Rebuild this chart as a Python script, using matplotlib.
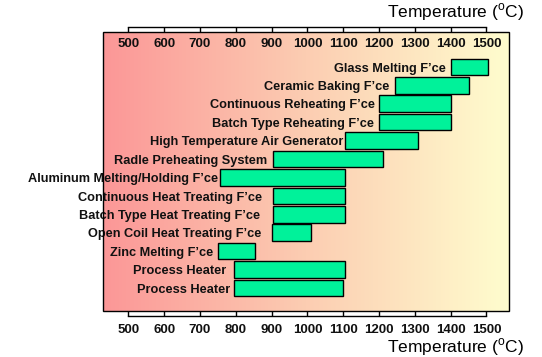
import matplotlib.pyplot as plt
import numpy as np
from matplotlib.colors import LinearSegmentedColormap
from matplotlib.patches import Rectangle

# Datos del grafico
furnaces = [
    "Glass Melting F’ce",
    "Ceramic Baking F’ce",
    "Continuous Reheating F’ce",
    "Batch Type Reheating F’ce",
    "High Temperature Air Generator",
    "Radle Preheating System",
    "Aluminum Melting/Holding F’ce",
    "Continuous Heat Treating F’ce",
    "Batch Type Heat Treating F’ce",
    "Open Coil Heat Treating F’ce",
    "Zinc Melting F’ce",
    "Process Heater",
    "Process Heater",
]
temp_low = [1400, 1245, 1200, 1200, 1105, 905, 755, 905, 905, 900, 750, 795, 795]
temp_high = [1505, 1450, 1400, 1400, 1310, 1210, 1105, 1105, 1105, 1010, 855, 1105, 1100]
ticks = [500, 600, 700, 800, 900, 1000, 1100, 1200, 1300, 1400, 1500]

# espacio (px) entre el texto y la barra, como en el original
label_gap = [5, 6, 4, 5, 2, 6, 2, 11, 13, 10, 5, 8, 4]

plt.rcParams['font.family'] = 'Liberation Sans'

fig = plt.figure(figsize=(5.42, 3.57), dpi=100)
ax = fig.add_axes([0.1906, 0.1289, 0.7485, 0.7807])

x0, x1 = 430, 1563
y_top, y_bot = -1.88, 13.25

# Fondo degradado rojo -> amarillo
cmap = LinearSegmentedColormap.from_list('bg', ['#FB9797', '#FCCDB2', '#FFFDCE'])
grad = np.linspace(0, 1, 256).reshape(1, -1)
ax.imshow(grad, cmap=cmap, aspect='auto', extent=[x0, x1, y_bot, y_top], zorder=0)

# Barras
pos = np.arange(len(furnaces))
widths = [h - l for l, h in zip(temp_low, temp_high)]
ax.barh(pos, widths, left=temp_low, height=0.9, color='#00F29A',
        edgecolor='black', linewidth=1, zorder=2)

for i, name in enumerate(furnaces):
    ax.annotate(name, xy=(temp_low[i], i), xytext=(-label_gap[i] * 0.72, -3.4),
                textcoords='offset points', ha='right', va='baseline',
                fontsize=9.2, fontweight='bold', color='#111111', zorder=3)

ax.set_xlim(x0, x1)
ax.set_ylim(y_bot, y_top)
ax.set_yticks([])

# Ejes arriba y abajo como "regla"
for side in ['left', 'right']:
    ax.spines[side].set_visible(False)
for side in ['top', 'bottom']:
    ax.spines[side].set_position(('outward', 3.6))
    ax.spines[side].set_bounds(ticks[0], ticks[-1])
    ax.spines[side].set_linewidth(1)

ax.set_xticks(ticks)
ax.tick_params(axis='x', top=True, bottom=True, direction='in', length=3.6,
               width=1, pad=5.8, labelsize=9.5, labelcolor='#111111')
for lab in ax.get_xticklabels():
    lab.set_fontweight('bold')

# etiquetas de arriba van dentro del cuadro
for t in ticks:
    ax.text(t, 0.958, str(t), transform=ax.get_xaxis_transform(), ha='center',
            va='center', fontsize=9.5, fontweight='bold', color='#111111', zorder=3)

# marco del grafico
ax.add_patch(Rectangle((0, 0), 1, 1, transform=ax.transAxes, fill=False,
                       edgecolor='black', linewidth=1, zorder=5, clip_on=False))

title = r'Temperature ($^{\mathregular{o}}$C)'
fig.text(524 / 542, 1 - 17.5 / 357, title, ha='right', va='baseline', fontsize=12.5)
fig.text(524 / 542, 1 - 352.5 / 357, title, ha='right', va='baseline', fontsize=12.5)

fig.savefig('out.png', dpi=100)
